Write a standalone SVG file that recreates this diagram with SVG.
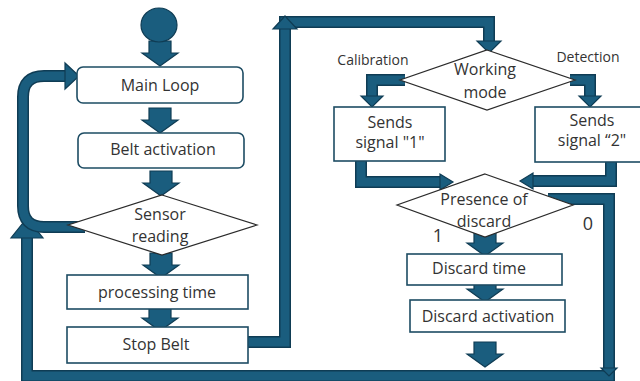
<svg xmlns="http://www.w3.org/2000/svg" width="640" height="381" viewBox="0 0 640 381">
<defs>
<style>
.bg{fill:#ffffff}
.box{fill:#ffffff;stroke:#1d4c63;stroke-width:1.6}
.dia{fill:#ffffff;stroke:#2b2b2b;stroke-width:1.2}
.t{font-family:"Open Sans","Liberation Sans",sans-serif;font-size:16px;fill:#333333;text-anchor:middle}
.s{font-size:14px}
.n{font-size:18px}
.lo{fill:none;stroke:#0f3c54;stroke-width:12;stroke-linejoin:miter}
.li{fill:none;stroke:#1a5d7e;stroke-width:9;stroke-linejoin:miter}
.head{fill:#1a5d7e;stroke:#0f3c54;stroke-width:1.2;stroke-linejoin:miter}
</style>
<path id="dn" d="M-11,-25 H11 V-13 H18 L0,0 L-18,-13 H-11 Z"/>
</defs>
<rect class="bg" x="0" y="0" width="640" height="381"/>

<g id="connectors">
  <!-- block arrows -->
  <use href="#dn" class="head" transform="translate(160,66)"/>
  <use href="#dn" class="head" transform="translate(160,133)"/>
  <use href="#dn" class="head" transform="translate(161,196)"/>
  <use href="#dn" class="head" transform="translate(161,278)"/>
  <use href="#dn" class="head" transform="translate(160,331)"/>
  <use href="#dn" class="head" transform="translate(485,256)"/>
  <use href="#dn" class="head" transform="translate(485,302)"/>
  <use href="#dn" class="head" transform="translate(485,367)"/>

  <!-- Stop Belt to Working mode -->
  <path class="lo" d="M248,342 H285 V22 H489 V42"/>
  <path class="li" d="M248,342 H285 V22 H489 V42"/>
  <polygon class="head" points="273,29 297,29 285,16"/>
  <polygon class="head" points="477,41 501,41 489,53"/>

  <!-- Working mode branches -->
  <path class="lo" d="M405,80 H372 V97"/>
  <path class="li" d="M405,80 H372 V97"/>
  <polygon class="head" points="361,96 383,96 372,107"/>
  <path class="lo" d="M570,80 H590 V97"/>
  <path class="li" d="M570,80 H590 V97"/>
  <polygon class="head" points="579,96 601,96 590,107"/>

  <!-- Sends to Presence -->
  <path class="lo" d="M361,161 V182 H441"/>
  <path class="li" d="M361,161 V182 H441"/>
  <polygon class="head" points="440,174 440,190 453,182"/>
  <path class="lo" d="M611,162 V181 H532"/>
  <path class="li" d="M611,162 V181 H532"/>
  <polygon class="head" points="533,173 533,189 520,181"/>

  <!-- "0" branch and bottom return -->
  <path class="lo" d="M548,199 H609 V376 H27 V237"/>
  <path class="li" d="M548,199 H609 V376 H27 V237"/>
  <polygon class="head" points="601,368 617,368 609,376"/>
  <polygon class="head" points="11,238 43,238 27,218"/>

  <!-- Sensor loop back to Main Loop -->
  <path class="lo" d="M85,227 H44 Q23,227 23,206 V97 Q23,76 44,76 H66"/>
  <path class="li" d="M85,227 H44 Q23,227 23,206 V97 Q23,76 44,76 H66"/>
  <polygon class="head" points="65,63 65,89 79,76"/>
</g>

<g id="start">
  <ellipse cx="159" cy="25" rx="18" ry="17" fill="#1a5d7e" stroke="#0f3c54" stroke-width="1.2"/>
</g>

<g id="main-loop">
  <rect class="box" x="77" y="67" width="166" height="36" rx="6"/>
  <text class="t" x="160" y="91">Main Loop</text>
</g>

<g id="belt-activation">
  <rect class="box" x="78" y="133" width="166" height="35" rx="6"/>
  <text class="t" x="163" y="155">Belt activation</text>
</g>

<g id="sensor-reading">
  <polygon class="dia" points="162,195 257,225 162,255 68,225"/>
  <text class="t" x="160" y="220">Sensor</text>
  <text class="t" x="160" y="242">reading</text>
</g>

<g id="processing-time">
  <rect class="box" x="67" y="275" width="181" height="34"/>
  <text class="t" x="157" y="298">processing time</text>
</g>

<g id="stop-belt">
  <rect class="box" x="67" y="327" width="181" height="36"/>
  <text class="t" x="156" y="350">Stop Belt</text>
</g>

<g id="working-mode">
  <polygon class="dia" points="487,50 575,80 487,110 400,80"/>
  <text class="t" x="485" y="75">Working</text>
  <text class="t" x="485" y="98">mode</text>
</g>

<g id="labels-mode">
  <text class="t s" x="373" y="65">Calibration</text>
  <text class="t s" x="588" y="62">Detection</text>
</g>

<g id="sends-1">
  <rect class="box" x="334" y="107" width="111" height="54"/>
  <text class="t" x="390" y="128">Sends</text>
  <text class="t" x="390" y="148">signal "1"</text>
</g>

<g id="sends-2">
  <rect class="box" x="535" y="107" width="110" height="55"/>
  <text class="t" x="592" y="126">Sends</text>
  <text class="t" x="592" y="146">signal “2"</text>
</g>

<g id="presence-of-discard">
  <polygon class="dia" points="485,174 573,205 485,237 397,205"/>
  <text class="t" x="484" y="205">Presence of</text>
  <text class="t" x="484" y="227">discard</text>
  <text class="t n" x="438" y="242">1</text>
  <text class="t n" x="588" y="230">0</text>
</g>

<g id="discard-time">
  <rect class="box" x="407" y="254" width="155" height="31"/>
  <text class="t" x="479" y="274">Discard time</text>
</g>

<g id="discard-activation">
  <rect class="box" x="410" y="300" width="155" height="32"/>
  <text class="t" x="488" y="322">Discard activation</text>
</g>
</svg>
